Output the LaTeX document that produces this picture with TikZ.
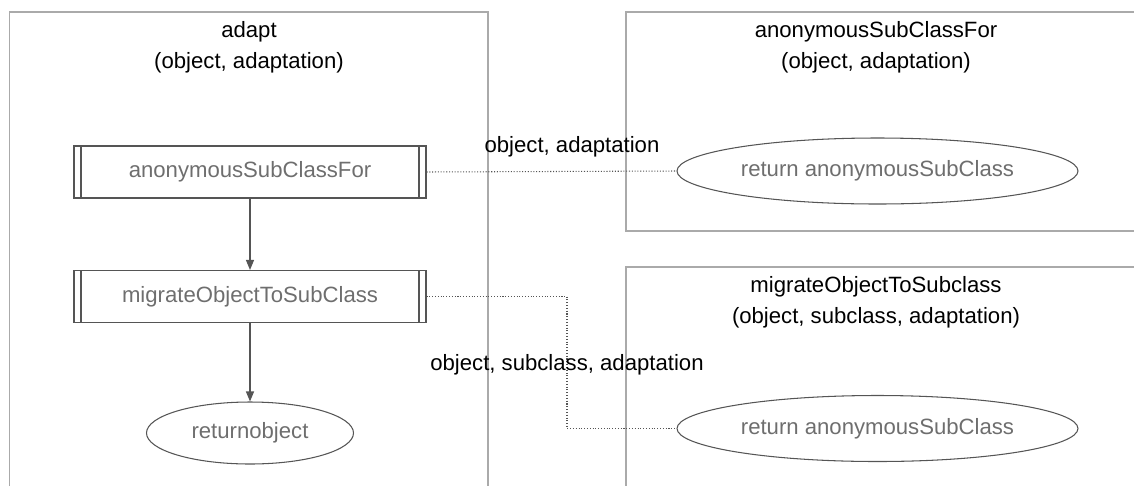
\documentclass[tikz,border=0pt]{standalone}
\usepackage{fontspec}
\setmainfont{Liberation Sans}
\usetikzlibrary{arrows.meta,shapes.geometric}
\definecolor{frgray}{RGB}{170,170,170}
\definecolor{lngray}{RGB}{85,85,85}
\definecolor{txgray}{RGB}{110,110,110}

\tikzset{
  frame/.style={draw=frgray, line width=0.6pt},
  title/.style={align=center, font=\fontsize{12.6}{17.6}\selectfont},
  procbox/.style={draw=lngray, line width=0.6pt, minimum width=7.04cm, minimum height=1.04cm,
    text=txgray, font=\fontsize{12.6}{15}\selectfont,
    path picture={
      \draw[lngray, line width=0.6pt] ([xshift=0.14cm]path picture bounding box.north west) -- ([xshift=0.14cm]path picture bounding box.south west);
      \draw[lngray, line width=0.6pt] ([xshift=-0.14cm]path picture bounding box.north east) -- ([xshift=-0.14cm]path picture bounding box.south east);
    }},
  retnode/.style={draw=lngray, line width=0.6pt, ellipse, inner sep=0pt,
    text=txgray, font=\fontsize{12.6}{15}\selectfont},
  flow/.style={draw=lngray, line width=0.6pt, -{Triangle[length=0.2cm,width=0.16cm]}},
  link/.style={draw=lngray, line width=0.6pt, densely dotted},
  argtext/.style={font=\fontsize{12.6}{15}\selectfont}
}

\begin{document}
\begin{tikzpicture}
  \useasboundingbox (0,0) rectangle (22.68,-9.72);

  % Frames
  \draw[frame] (0.19,-9.72) -- (0.19,-0.24) -- (9.76,-0.24) -- (9.76,-9.72);
  \draw[frame] (22.68,-0.24) -- (12.52,-0.24) -- (12.52,-4.62) -- (22.68,-4.62);
  \draw[frame] (22.68,-5.34) -- (12.52,-5.34) -- (12.52,-9.72);

  % Titles
  \node[title] (adapttitle) at (4.98,-0.95) {adapt\\(object, adaptation)};
  \node[title] (ascftitle) at (17.52,-0.94) {anonymousSubClassFor\\(object, adaptation)};
  \node[title] (motstitle) at (17.52,-6.05) {migrateObjectToSubclass\\(object, subclass, adaptation)};

  % adapt
  \node[procbox] (ascfbox) at (5.0,-3.44) {anonymousSubClassFor};
  \node[procbox] (motsbox) at (5.0,-5.93) {migrateObjectToSubClass};
  \node[retnode, minimum width=4.14cm, minimum height=1.24cm] (retobj) at (5.0,-8.66) {returnobject};

  \draw[flow] (ascfbox) -- (motsbox);
  \draw[flow] (motsbox) -- (retobj);

  % Called functions
  \node[retnode, minimum width=8.02cm, minimum height=1.32cm] (ascfret) at (17.55,-3.42) {return anonymousSubClass};
  \node[retnode, minimum width=8.02cm, minimum height=1.32cm] (motsret) at (17.55,-8.57) {return anonymousSubClass};

  % Calls
  \coordinate (motsbend) at (11.34,-5.93);
  \draw[link] (ascfbox.east) -- (ascfret.west);
  \draw[link] (motsbox.east) -- (motsbend) |- (motsret.west);

  \node[argtext] (ascfargs) at (11.44,-2.94) {object, adaptation};
  \node[argtext] (motsargs) at (11.34,-7.3) {object, subclass, adaptation};
\end{tikzpicture}
\end{document}
